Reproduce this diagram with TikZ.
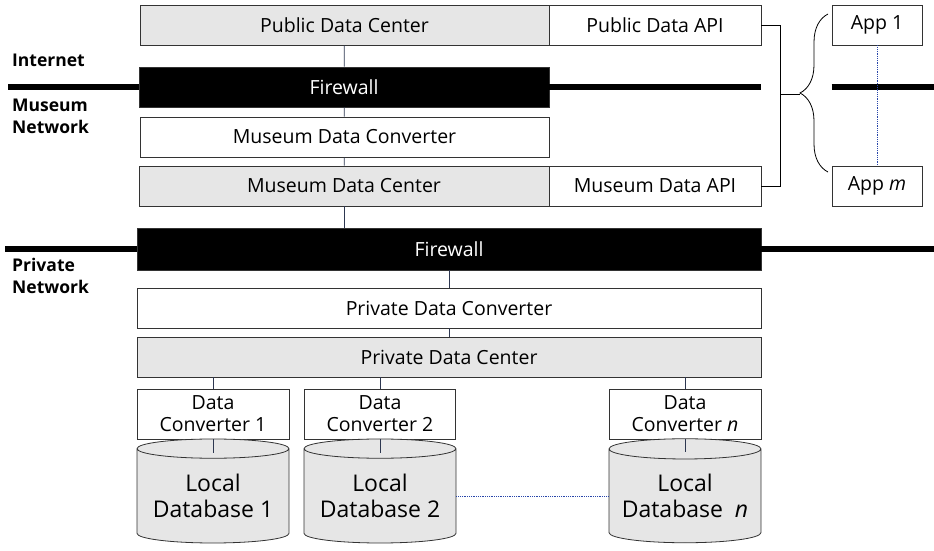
\documentclass[tikz,border=0pt]{standalone}
\usepackage{fontspec}
\setmainfont{Open Sans}
\usetikzlibrary{shapes.geometric,decorations.pathreplacing}
\definecolor{boxgray}{RGB}{230,230,230}
\definecolor{linkblue}{RGB}{45,55,80}
\definecolor{dotblue}{RGB}{40,70,170}

\begin{document}
\begin{tikzpicture}[x=1pt,y=-1pt,
  box/.style={draw=black!80,line width=0.8pt,inner sep=0pt,align=center,font=\fontsize{19.5}{22}\selectfont},
  hub/.style={box,fill=boxgray},
  wall/.style={box,fill=black,text=white},
  db/.style={draw=black!80,line width=0.8pt,fill=boxgray,cylinder,shape border rotate=90,aspect=0.16,minimum width=152pt,minimum height=104pt,inner sep=0pt,align=center,font=\fontsize{23}{26}\selectfont},
  lbl/.style={anchor=west,align=left,inner sep=0pt,font=\bfseries\fontsize{17.5}{22}\selectfont},
  net/.style={line width=6pt},
  link/.style={draw=linkblue,line width=0.8pt}]
\useasboundingbox (0,0) rectangle (934,550);

\node[hub,minimum width=409pt,minimum height=40pt] (pdc) at (344.5,25) {Public Data Center};
\node[box,minimum width=212pt,minimum height=40pt] (papi) at (655,25) {Public Data API};
\node[box,minimum width=90pt,minimum height=40pt] (app1) at (877,25) {App 1};
\node[wall,minimum width=410pt,minimum height=40pt] (fw1) at (344,87) {Firewall};
\node[box,minimum width=409pt,minimum height=40pt] (mconv) at (344.5,137) {Museum Data Converter};
\node[hub,minimum width=410pt,minimum height=40pt] (mdc) at (344,186) {Museum Data Center};
\node[box,minimum width=212pt,minimum height=40pt] (mapi) at (655,186) {Museum Data API};
\node[box,minimum width=90pt,minimum height=40pt] (appm) at (877,186) {App \textit{m}};

\node[wall,minimum width=624pt,minimum height=42pt] (fw2) at (449,249) {Firewall};
\node[box,minimum width=624pt,minimum height=40pt] (pconv) at (449,308) {Private Data Converter};
\node[hub,minimum width=624pt,minimum height=40pt] (pdcn) at (449,357) {Private Data Center};

\node[box,minimum width=152pt,minimum height=50pt] (dc1) at (213,414) {Data\\Converter 1};
\node[box,minimum width=151pt,minimum height=50pt] (dc2) at (380,414) {Data\\Converter 2};
\node[box,minimum width=152pt,minimum height=50pt] (dcn) at (685,414) {Data\\Converter \textit{n}};
\node[db] (db1) at (213,496) {Local\\Database 1};
\node[db] (db2) at (380,496) {Local\\Database 2};
\node[db] (dbn) at (685,496) {Local\\Database\ \ \textit{n}};

\node[lbl] (inet) at (12,60) {Internet};
\node[lbl] (mnet) at (12,116) {Museum\\Network};
\node[lbl] (pnet) at (12,276) {Private\\Network};

\coordinate (w1) at (8,87);
\coordinate (e1) at (934,87);
\coordinate (w2) at (5,249);
\coordinate (e2) at (934,249);
\coordinate (bt) at (828,14);
\coordinate (bb) at (828,172);

\draw[net] (w1) -- (fw1.west);
\draw[net] (fw1.east) -- (papi.east |- fw1.east);
\draw[net] (app1.west |- e1) -- (e1);
\draw[net] (w2) -- (fw2.west);
\draw[net] (fw2.east) -- (e2);

\draw[link] (pdc) -- (fw1);
\draw[link] (fw1) -- (mconv);
\draw[link] (mconv) -- (mdc);
\draw[link] (mdc.south) -- (mdc.south |- fw2.north);
\draw[link] (fw2) -- (pconv);
\draw[link] (pconv) -- (pdcn);
\draw[link] (dc1.north |- pdcn.south) -- (dc1);
\draw[link] (dc2.north |- pdcn.south) -- (dc2);
\draw[link] (dcn.north |- pdcn.south) -- (dcn);
\draw[link] (dc1.south) -- ([yshift=-14pt]db1.north);
\draw[link] (dc2.south) -- ([yshift=-14pt]db2.north);
\draw[link] (dcn.south) -- ([yshift=-14pt]dbn.north);

\draw[line width=0.8pt] (papi.east) -- ++(19,0) |- (mapi.east);
\draw[line width=0.8pt] (780,94) -- (800,94);
\draw[line width=0.8pt,decorate,decoration={brace,amplitude=28pt}] (bb) -- (bt);

\draw[dotblue,densely dotted,line width=0.8pt] (app1) -- (appm);
\draw[dotblue,densely dotted,line width=0.8pt] (db2.east) -- (dbn.west);

\end{tikzpicture}
\end{document}
